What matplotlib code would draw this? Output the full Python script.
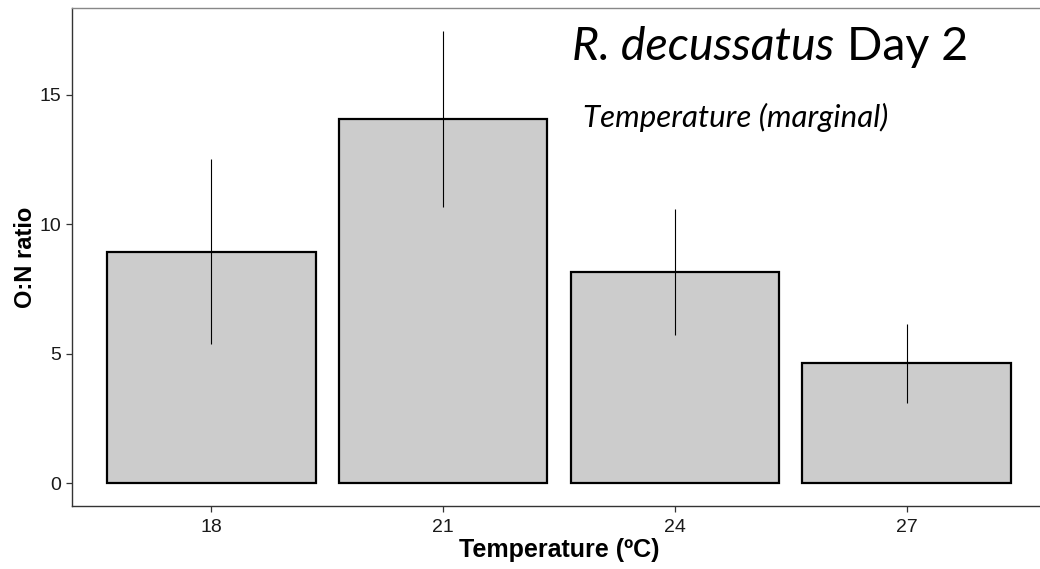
import matplotlib
matplotlib.use("Agg")
import numpy as np
import matplotlib.pyplot as plt

temps = ["18", "21", "24", "27"]
on_ratio = [8.95, 14.07, 8.17, 4.63]
on_sd = [3.57, 3.40, 2.44, 1.51]

plt.rcParams["font.family"] = ["Liberation Sans", "DejaVu Sans"]

fig = plt.figure(figsize=(10.4, 5.69), dpi=100)
ax = fig.add_axes([72 / 1040, 1 - 506 / 569, 974 / 1040, 498 / 569])

x = np.arange(len(temps))
ax.bar(x, on_ratio, width=0.9, color="#cccccc", edgecolor="black", linewidth=1.6, zorder=2)
lo = np.array(on_ratio) - np.array(on_sd)
hi = np.array(on_ratio) + np.array(on_sd)
ax.vlines(x, lo, hi, color="black", linewidth=0.8, zorder=3)

ax.set_xlim(-0.6, 3.6)
ax.set_ylim(-0.87, 18.35)
ax.set_xticks(x)
ax.set_xticklabels(temps)
ax.set_yticks([0, 5, 10, 15])
ax.tick_params(axis="both", labelsize=14, colors="#333333", labelcolor="#1a1a1a",
               length=4, width=0.9, direction="out")
ax.tick_params(axis="x", pad=5)

for side in ["left", "bottom"]:
    ax.spines[side].set_color("#333333")
    ax.spines[side].set_linewidth(1.0)
ax.spines["top"].set_color("#888888")
ax.spines["top"].set_linewidth(1.0)
ax.spines["right"].set_visible(False)

ax.set_xlabel("Temperature (ºC)", fontsize=18, fontweight="bold", labelpad=2)
ax.set_ylabel("O:N ratio", fontsize=17, fontweight="bold", labelpad=2)

# title: italic species name followed by upright "Day 2"
t1 = fig.text(572 / 1040, 1 - 47 / 569, "R. decussatus", fontsize=33.5, style="italic",
              family="Lato", va="center", ha="left")
fig.canvas.draw()
bb = t1.get_window_extent(fig.canvas.get_renderer())
fig.text((bb.x1 + 13) / 1040, 1 - 47 / 569, "Day 2", fontsize=33.5,
         family="Lato", va="center", ha="left")
fig.text(583 / 1040, 1 - 117 / 569, "Temperature (marginal)", fontsize=22.5, style="italic",
         family="Lato", va="center", ha="left")

fig.savefig("out.png", dpi=100)
